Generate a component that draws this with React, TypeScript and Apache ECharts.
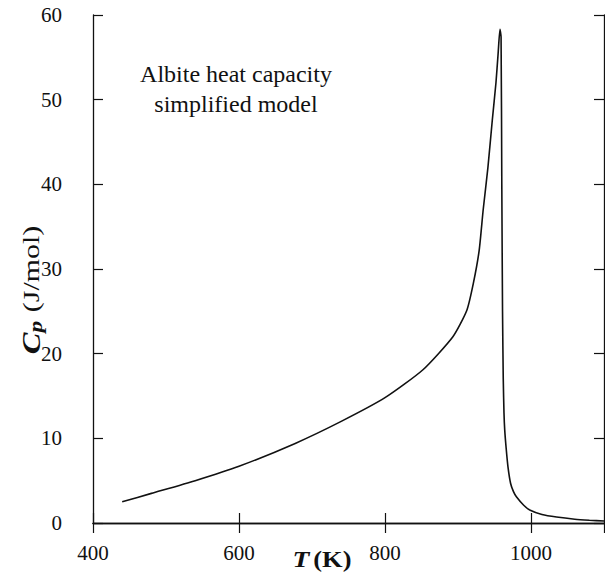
import React, { useEffect, useRef } from "react";
import * as echarts from "echarts";

const temperatureK = [
  440, 480, 540, 600, 677, 740, 800, 852, 893, 912, 921, 929, 934.5, 941, 947, 952, 955, 957.5,
  959, 960, 961, 962, 963, 964, 966, 968.5, 972, 976, 980, 990, 999, 1015, 1035, 1060, 1080, 1100,
];
const heatCapacity = [
  2.5, 3.5, 5.0, 6.7, 9.4, 12.0, 14.8, 18.1, 22.0, 25.1, 28.3, 32.2, 37.0, 42.0, 47.6, 52.0, 55.5, 58.3,
  57.4, 40.0, 25.0, 17.0, 13.0, 11.0, 8.8, 6.6, 4.7, 3.7, 3.1, 2.1, 1.5, 1.0, 0.7, 0.45, 0.33, 0.24,
];
const xTicks = [400, 600, 800, 1000];
const yTicks = [0, 10, 20, 30, 40, 50, 60];
const annotationLines = ["Albite heat capacity", "simplified model"];

const SERIF = '"Liberation Serif", "Times New Roman", "DejaVu Serif", serif';

export default function App() {
  const ref = useRef<HTMLDivElement>(null);

  useEffect(() => {
    if (!ref.current) return;
    const chart = echarts.init(ref.current, undefined, { renderer: "svg" });
    const axisLine = { show: true, lineStyle: { color: "#111", width: 1.3 } };
    const tick = { show: true, inside: true, length: 10, lineStyle: { color: "#111", width: 1.2 } };
    const labelStyle = { color: "#111", fontFamily: SERIF, fontSize: 21 };
    const data = temperatureK.map((t, i) => [t, heatCapacity[i]]);

    chart.setOption({
      animation: false,
      backgroundColor: "#fff",
      grid: { left: 93, right: 1, top: 15, bottom: 49, containLabel: false },
      xAxis: [
        {
          type: "value",
          min: 400,
          max: 1100,
          interval: 200,
          position: "bottom",
          axisLine,
          axisTick: tick,
          splitLine: { show: false },
          axisLabel: {
            ...labelStyle,
            margin: 19,
            showMaxLabel: false,
            formatter: (v: number) => (xTicks.includes(v) ? String(v) : ""),
          },
        },
        {
          type: "value",
          min: 400,
          max: 1100,
          interval: 200,
          position: "top",
          axisLine,
          axisTick: tick,
          splitLine: { show: false },
          axisLabel: { show: false },
        },
      ],
      yAxis: [
        {
          type: "value",
          min: 0,
          max: 60,
          interval: 10,
          position: "left",
          axisLine,
          axisTick: tick,
          splitLine: { show: false },
          axisLabel: {
            ...labelStyle,
            margin: 31,
            formatter: (v: number) => (yTicks.includes(v) ? String(v) : ""),
          },
        },
        {
          type: "value",
          min: 0,
          max: 60,
          interval: 10,
          position: "right",
          axisLine,
          axisTick: tick,
          splitLine: { show: false },
          axisLabel: { show: false },
        },
      ],
      series: [
        {
          type: "line",
          xAxisIndex: 0,
          yAxisIndex: 0,
          data,
          showSymbol: false,
          symbol: "none",
          smooth: 0.2,
          lineStyle: { color: "#111", width: 1.6 },
        },
      ],
      graphic: [
        {
          type: "text",
          x: 236,
          y: 89,
          style: {
            text: annotationLines.join("\n"),
            fontFamily: SERIF,
            fontSize: 24,
            lineHeight: 30,
            fill: "#111",
            align: "center",
            verticalAlign: "middle",
          },
        },
        {
          type: "text",
          x: 31,
          y: 290,
          rotation: Math.PI / 2,
          scaleX: 1.3,
          style: {
            text: "{c|C}{p|p}  {n|(J/mol)}",
            fill: "#111",
            align: "center",
            verticalAlign: "middle",
            rich: {
              c: { fontFamily: SERIF, fontSize: 25, fontStyle: "italic", fontWeight: "bold", fill: "#111" },
              p: { fontFamily: SERIF, fontSize: 18, fontStyle: "italic", fontWeight: "bold", fill: "#111", padding: [9, 0, 0, 0] },
              n: { fontFamily: SERIF, fontSize: 23, fill: "#111" },
            },
          },
        },
        {
          type: "text",
          x: 322,
          y: 559,
          scaleX: 1.15,
          style: {
            text: "{t|T} {n|(K)}",
            fill: "#111",
            align: "center",
            verticalAlign: "middle",
            rich: {
              t: { fontFamily: SERIF, fontSize: 24, fontStyle: "italic", fontWeight: "bold", fill: "#111" },
              n: { fontFamily: SERIF, fontSize: 23, fontWeight: "bold", fill: "#111" },
            },
          },
        },
      ],
    });
    return () => chart.dispose();
  }, []);

  return <div ref={ref} style={{ width: 605, height: 572, position: "absolute", left: 0, top: 0 }} />;
}
